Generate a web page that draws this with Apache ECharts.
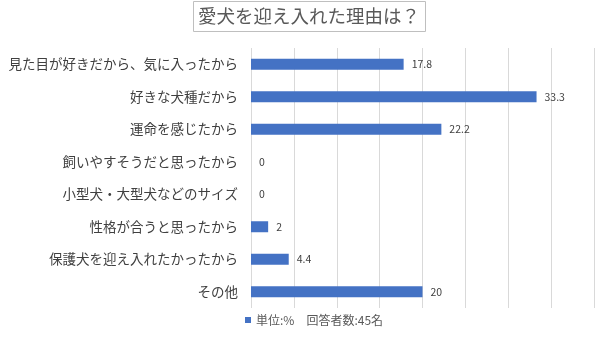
<!DOCTYPE html>
<html>
<head>
<meta charset="utf-8">
<script src="https://cdn.jsdelivr.net/npm/echarts@6/dist/echarts.min.js"></script>
<style>
  html, body { margin: 0; padding: 0; background: #fff; }
  #chart { width: 600px; height: 337px; }
</style>
</head>
<body>
<div id="chart"></div>
<script>
// Reasons for adopting a dog (percent of respondents)
const categories = [
  '見た目が好きだから、気に入ったから',
  '好きな犬種だから',
  '運命を感じたから',
  '飼いやすそうだと思ったから',
  '小型犬・大型犬などのサイズ',
  '性格が合うと思ったから',
  '保護犬を迎え入れたかったから',
  'その他'
];
const values = [17.8, 33.3, 22.2, 0, 0, 2, 4.4, 20];
const seriesName = '単位:%　回答者数:45名';
const titleText = '愛犬を迎え入れた理由は？';

const font = '"Noto Sans CJK JP", "Noto Sans", sans-serif';
const chart = echarts.init(document.getElementById('chart'), null, { renderer: 'canvas' });

chart.setOption({
  animation: false,
  backgroundColor: '#ffffff',
  textStyle: { fontFamily: font },
  title: {
    text: titleText,
    left: 193,
    top: 1,
    padding: [6, 6, 6, 5],
    borderColor: '#bfbfbf',
    borderWidth: 1,
    textStyle: { fontFamily: font, fontSize: 18.5, fontWeight: 'normal', color: '#595959' }
  },
  legend: {
    bottom: 6,
    left: 240,
    itemWidth: 6,
    itemHeight: 6,
    icon: 'rect',
    itemGap: 4,
    textStyle: { fontFamily: font, fontSize: 12, color: '#595959' },
    data: [seriesName]
  },
  grid: { left: 251, right: 6, top: 48, bottom: 29, containLabel: false },
  xAxis: {
    type: 'value',
    min: 0,
    max: 40,
    interval: 5,
    axisLabel: { show: false },
    axisLine: { show: false },
    axisTick: { show: false },
    splitLine: { show: true, lineStyle: { color: '#d9d9d9', width: 1 } }
  },
  yAxis: {
    type: 'category',
    data: categories,
    inverse: true,
    axisLine: { show: false },
    axisTick: { show: false },
    axisLabel: { fontFamily: font, fontSize: 13.5, color: '#404040', margin: 13 }
  },
  series: [{
    name: seriesName,
    type: 'bar',
    data: values,
    barWidth: 11,
    itemStyle: { color: '#4472c4' },
    label: {
      show: true,
      position: 'right',
      distance: 8,
      fontFamily: font,
      fontSize: 10.5,
      color: '#404040'
    }
  }]
});
</script>
</body>
</html>
